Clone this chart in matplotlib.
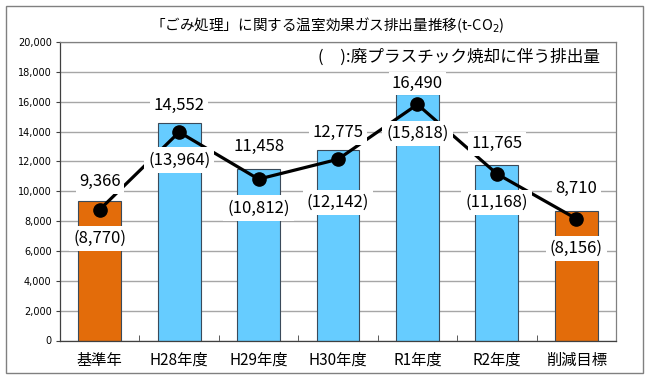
import matplotlib
matplotlib.use("Agg")
import matplotlib.pyplot as plt
from matplotlib.patches import Rectangle

plt.rcParams['font.family'] = ['Noto Sans CJK JP', 'DejaVu Sans']

categories = ['基準年', 'H28年度', 'H29年度', 'H30年度', 'R1年度', 'R2年度', '削減目標']
totals = [9366, 14552, 11458, 12775, 16490, 11765, 8710]
plastic = [8770, 13964, 10812, 12142, 15818, 11168, 8156]
is_target = [True, False, False, False, False, False, True]
yticks = list(range(0, 20001, 2000))

title = '「ごみ処理」に関する温室効果ガス排出量推移(t-CO$_2$)'
note = '(\u3000):廃プラスチック焼却に伴う排出量'

ORANGE = '#E36C0A'
BLUE = '#66CCFF'

# label offsets in pixels
tot_off = [19, 18, 23, 17, 11, 21, 22]
par_off = [29, 28, 29, 43, 29, 29, 30]
PX = 0.72  # points per pixel at dpi 100

fig = plt.figure(figsize=(6.5, 3.86), dpi=100)
ax = fig.add_axes([60/650, 1-340.5/386, 556/650, 298.5/386])

x = list(range(len(categories)))
colors = [ORANGE if t else BLUE for t in is_target]
ax.bar(x, totals, width=0.54, color=colors, edgecolor='#3A4A5A', linewidth=0.8, zorder=2)
ax.plot(x, plastic, color='black', lw=2.3, marker='o', markersize=9.5, zorder=3)

for i in x:
    ax.annotate(f'{totals[i]:,}', (i, totals[i]), xytext=(0, tot_off[i]*PX),
                textcoords='offset points', ha='center', va='center', fontsize=12,
                bbox=dict(boxstyle='square,pad=0.2', fc='white', ec='none'), zorder=5)
    ax.annotate(f'({plastic[i]:,})', (i, plastic[i]), xytext=(0, -par_off[i]*PX),
                textcoords='offset points', ha='center', va='center', fontsize=12,
                bbox=dict(boxstyle='square,pad=0.25', fc='white', ec='none'), zorder=5)

ax.set_xlim(-0.5, len(categories)-0.5)
ax.set_ylim(0, 20000)
ax.set_yticks(yticks)
ax.set_yticklabels([f'{v:,}' for v in yticks], fontsize=7, family='DejaVu Sans')
ax.set_xticks(x)
ax.set_xticklabels(categories, fontsize=11)
ax.tick_params(axis='x', length=0, pad=8)
ax.tick_params(axis='y', length=3, width=0.8, color='#404040', pad=3)
ax.set_xticks([i + 0.5 for i in x[:-1]], minor=True)
ax.tick_params(axis='x', which='minor', direction='in', length=4, color='#404040')
ax.yaxis.grid(True, color='#A6A6A6', lw=1, zorder=0)
ax.set_axisbelow(True)
for s in ax.spines.values():
    s.set_color('#404040')
    s.set_linewidth(0.9)
ax.spines['top'].set_color('#808080')
ax.spines['right'].set_color('#808080')

ax.text(0.972, 0.95, note, transform=ax.transAxes, ha='right', va='center', fontsize=12, zorder=6)
fig.text(0.503, 1-25/386, title, ha='center', va='center', fontsize=10.5)

fig.patches.append(Rectangle((6/650, 1-373/386), 637/650, 367/386, transform=fig.transFigure,
                             fill=False, ec='#808080', lw=1))

fig.savefig('out.png', dpi=100)
